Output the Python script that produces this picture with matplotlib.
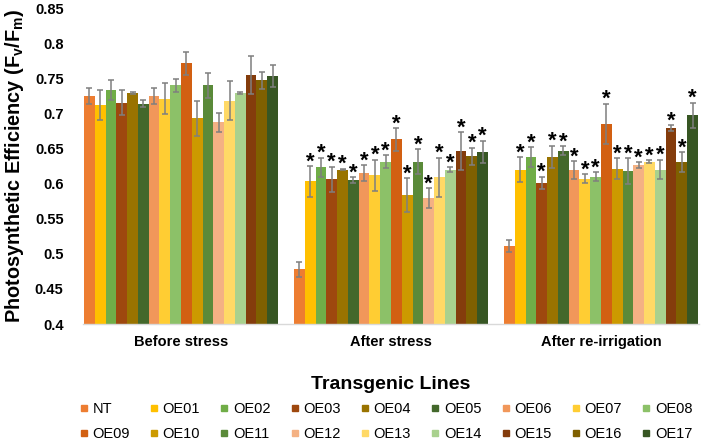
import matplotlib
matplotlib.use("Agg")
import matplotlib.pyplot as plt
from matplotlib.lines import Line2D
import numpy as np

plt.rcParams['font.family'] = ['Liberation Sans', 'DejaVu Sans']
plt.rcParams['mathtext.fontset'] = 'custom'
plt.rcParams['mathtext.rm'] = 'Liberation Sans:bold'
plt.rcParams['mathtext.it'] = 'Liberation Sans:bold'
plt.rcParams['mathtext.bf'] = 'Liberation Sans:bold'

groups = ["Before stress", "After stress", "After re-irrigation"]
lines = ["NT", "OE01", "OE02", "OE03", "OE04", "OE05", "OE06", "OE07", "OE08",
         "OE09", "OE10", "OE11", "OE12", "OE13", "OE14", "OE15", "OE16", "OE17"]
colors = ["#ED7D31", "#FFC000", "#70AD47", "#9E480E", "#997300", "#43682B",
          "#F1975A", "#FFCD33", "#8CC168", "#D26012", "#CC9A00", "#5A8A39",
          "#F4B183", "#FFD966", "#A9D18E", "#843C0C", "#7F6000", "#375623"]

before = [0.725, 0.712, 0.733, 0.715, 0.729, 0.714, 0.725, 0.721, 0.740,
          0.771, 0.693, 0.740, 0.687, 0.718, 0.729, 0.755, 0.747, 0.753]
before_err = [0.011, 0.021, 0.014, 0.018, 0.001, 0.005, 0.011, 0.022, 0.009,
              0.016, 0.025, 0.018, 0.014, 0.028, 0.002, 0.027, 0.012, 0.016]
after = [0.478, 0.603, 0.623, 0.606, 0.620, 0.605, 0.615, 0.612, 0.631,
         0.663, 0.584, 0.631, 0.579, 0.609, 0.620, 0.646, 0.639, 0.645]
after_err = [0.011, 0.022, 0.014, 0.018, 0.001, 0.0045, 0.011, 0.022, 0.009,
             0.016, 0.024, 0.018, 0.014, 0.028, 0.003, 0.027, 0.012, 0.016]
reirr = [0.511, 0.620, 0.638, 0.601, 0.638, 0.647, 0.619, 0.607, 0.610,
         0.685, 0.621, 0.618, 0.626, 0.631, 0.620, 0.679, 0.631, 0.697]
reirr_err = [0.009, 0.018, 0.014, 0.009, 0.016, 0.006, 0.013, 0.006, 0.006,
             0.029, 0.015, 0.018, 0.004, 0.002, 0.014, 0.004, 0.014, 0.018]
# significance stars: True where marked
stars_after = [False] + [True] * 17
stars_reirr = [False] + [True] * 17

values = [before, after, reirr]
errors = [before_err, after_err, reirr_err]
stars = [[False] * 18, stars_after, stars_reirr]

W, H = 708, 447
fig = plt.figure(figsize=(W / 100, H / 100), dpi=100)
ax = fig.add_axes([83 / W, 1 - 324 / H, 616 / W, 316 / H])

n = len(lines)
bw = 0.9238 / n
xg = np.arange(len(groups))
for i in range(n):
    xs = xg + (i - (n - 1) / 2) * bw
    vals = [values[g][i] for g in range(3)]
    errs = [errors[g][i] for g in range(3)]
    ax.bar(xs, vals, width=bw, color=colors[i], bottom=0, zorder=2)
    ax.errorbar(xs, vals, yerr=errs, fmt='none', ecolor='#7F7F7F',
                elinewidth=1.1, capsize=2.5, capthick=1.1, zorder=3)
    for g in range(3):
        if stars[g][i]:
            ax.annotate('*', (xs[g], vals[g] + errs[g]), xytext=(0, -1),
                        textcoords='offset points', ha='center', va='baseline',
                        fontsize=16, fontweight='bold', color='black', zorder=4)

ax.set_ylim(0.4, 0.85)
ax.set_xlim(-0.4667, 2.4667)
ax.set_yticks(np.arange(0.4, 0.851, 0.05))
ax.set_yticklabels(["0.4", "0.45", "0.5", "0.55", "0.6", "0.65", "0.7", "0.75", "0.8", "0.85"])
ax.set_xticks(xg)
ax.set_xticklabels(groups)
for lab in ax.get_xticklabels() + ax.get_yticklabels():
    lab.set_fontweight('bold')
    lab.set_fontsize(10.5)
ax.tick_params(axis='y', length=0, pad=14)
ax.tick_params(axis='x', length=0, pad=8)
for s in ['top', 'right', 'left']:
    ax.spines[s].set_visible(False)
ax.spines['bottom'].set_color('#D9D9D9')
ax.spines['bottom'].set_linewidth(1.0)

ax.set_xlabel("Transgenic Lines", fontsize=14, fontweight='bold')
ax.xaxis.set_label_coords(0.5, -0.165)
fig.text(15 / W, 1 - 166 / H, r'Photosynthetic Efficiency (F$_\mathrm{v}$/F$_\mathrm{m}$)',
         rotation=90, ha='center', va='center', fontsize=14.3, fontweight='bold')

handles = [Line2D([], [], marker='s', ls='', color=c, markersize=4.5) for c in colors]
order = []
for k in range(9):
    order += [k, k + 9]
fig.legend([handles[k] for k in order], [lines[k] for k in order], ncol=9,
           loc='upper left', bbox_to_anchor=(80 / W, 1 - 402 / H), frameon=False,
           fontsize=10.5, handlelength=0.5, handletextpad=0.35, columnspacing=1.4,
           labelspacing=0.75, borderpad=0, borderaxespad=0)

fig.savefig("out.png", dpi=100)
